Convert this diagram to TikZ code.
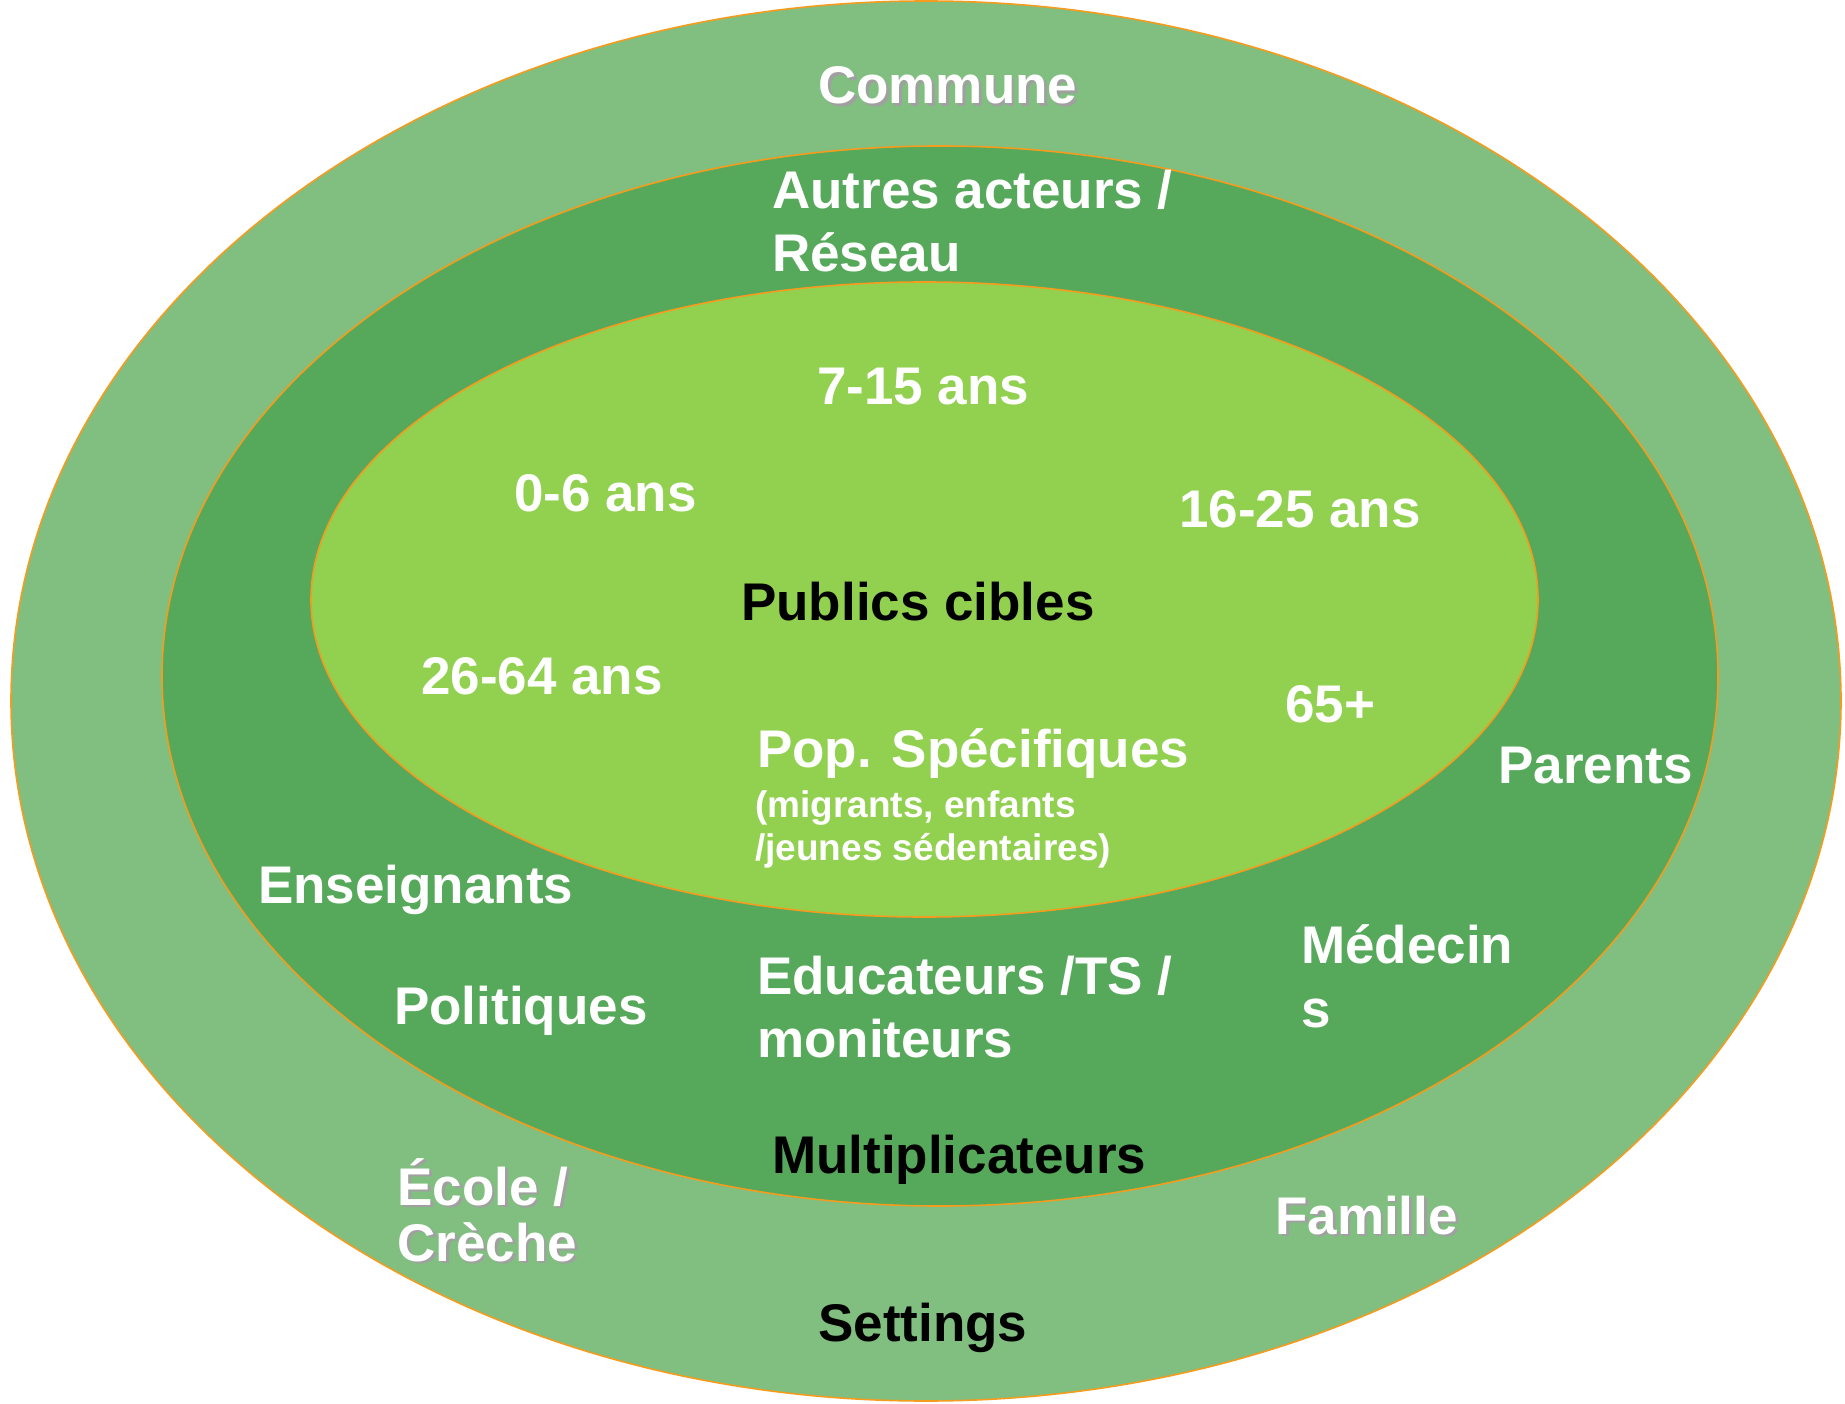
\documentclass[tikz,border=0pt]{standalone}
\usepackage{fontspec}
\setmainfont{Liberation Sans}
\definecolor{outerg}{HTML}{80BF80}
\definecolor{midg}{HTML}{56A95A}
\definecolor{innerg}{HTML}{92D050}
\definecolor{rim}{HTML}{F39C1F}
\definecolor{shadowg}{HTML}{A0A0A0}
\tikzset{
  ring/.style={draw=rim, line width=1.6pt},
  lbl/.style={anchor=base west, inner sep=0pt, text=white, font=\fontsize{53}{64}\selectfont\bfseries},
  small/.style={anchor=base west, inner sep=0pt, text=white, font=\fontsize{37}{44}\selectfont\bfseries},
  title/.style={lbl, text=black},
  shd/.style={lbl, text=shadowg},
}
\newcommand{\shadowlabel}[4]{%
  \node[shd] (#1s) at (#2+2.8,#3+2.8) {#4};
  \node[lbl] (#1) at (#2,#3) {#4};}
\begin{document}
\begin{tikzpicture}[x=1pt,y=-1pt]
\useasboundingbox (0,0) rectangle (1845,1404);
\fill[white] (0,0) rectangle (1845,1404);
% rings
\filldraw[ring, fill=outerg] (926,701) ellipse [x radius=915pt, y radius=700pt];
\filldraw[ring, fill=midg] (940,676) ellipse [x radius=778pt, y radius=530pt];
\filldraw[ring, fill=innerg] (924.5,599.5) ellipse [x radius=613.5pt, y radius=317.5pt];
% outer ring
\shadowlabel{commune}{818}{104}{Commune}
\shadowlabel{ecole}{397}{1205}{École /}
\shadowlabel{creche}{397}{1261}{Crèche}
\shadowlabel{famille}{1275}{1234}{Famille}
\node[title] (settings) at (818,1341) {Settings};
% middle ring
\node[lbl] (autres) at (772,209) {Autres acteurs /};
\node[lbl] (reseau) at (772,272) {Réseau};
\node[lbl] (parents) at (1498,783) {Parents};
\node[lbl] (enseignants) at (258,903) {Enseignants};
\node[lbl] (medecin) at (1301,963) {Médecin};
\node[lbl] (medecins) at (1301,1027) {s};
\node[lbl] (politiques) at (394,1024) {Politiques};
\node[lbl] (educ) at (757,994) {Educateurs /TS /};
\node[lbl] (moniteurs) at (757,1057) {moniteurs};
\node[title] (multi) at (772,1173) {Multiplicateurs};
% inner ellipse
\node[lbl] (a715) at (817,405) {7-15 ans};
\node[lbl] (a06) at (514,511) {0-6 ans};
\node[lbl] (a1625) at (1179,527) {16-25 ans};
\node[title] (publics) at (741,620) {Publics cibles};
\node[lbl] (a2664) at (421,694) {26-64 ans};
\node[lbl] (a65) at (1285,722) {65+};
\node[lbl] (pop) at (757,767) {Pop. Spécifiques};
\node[small] (migr) at (755,817) {(migrants, enfants};
\node[small] (jeunes) at (755,860) {/jeunes sédentaires)};
\end{tikzpicture}
\end{document}
